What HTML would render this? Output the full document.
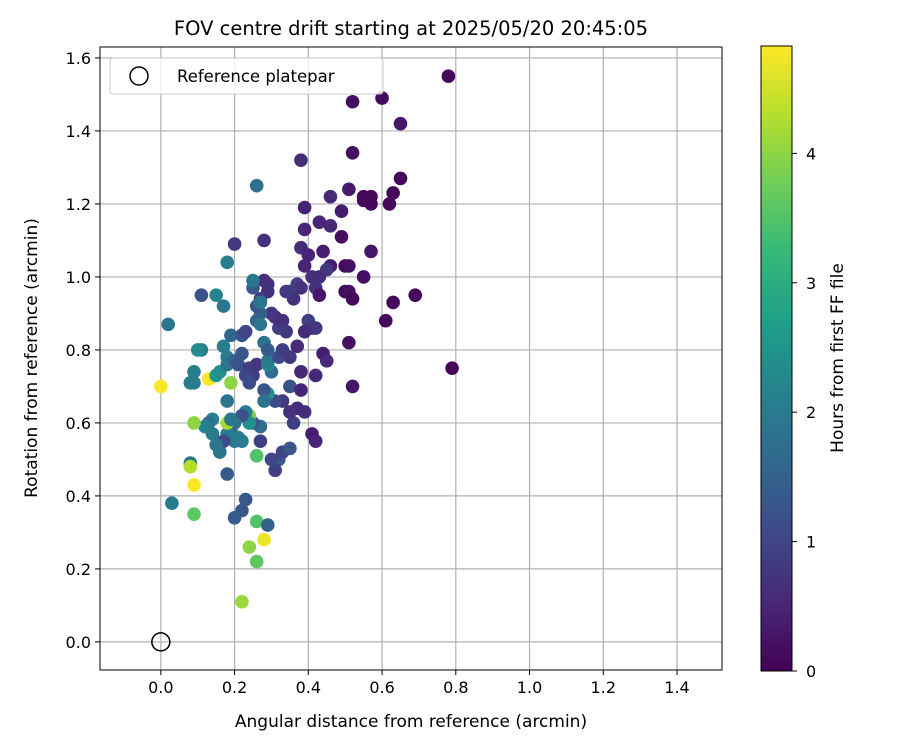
<!DOCTYPE html>
<html><head><meta charset="utf-8"><style>
body{margin:0;background:#fff;}
svg text{font-family:"DejaVu Sans","Liberation Sans",sans-serif;fill:#000;}
</style></head><body>
<svg id="chart" width="900" height="750" xmlns="http://www.w3.org/2000/svg">
<rect width="900" height="750" fill="#fff"/>
<text x="411" y="35" font-size="19.5" text-anchor="middle">FOV centre drift starting at 2025/05/20 20:45:05</text>
<g id="grid"></g>
<g id="points"></g>
<rect x="100" y="47" width="622" height="623" fill="none" stroke="#000" stroke-width="1"/>
<g id="ticks"></g>
<text x="411" y="727" font-size="17" text-anchor="middle">Angular distance from reference (arcmin)</text>
<text transform="translate(37,358) rotate(-90)" font-size="17" text-anchor="middle">Rotation from reference (arcmin)</text>
<g>
<rect x="110" y="58" width="273" height="36" rx="3" fill="#fff" fill-opacity="0.8" stroke="#ccc"/>
<circle cx="139" cy="76" r="9" fill="none" stroke="#000" stroke-width="1.5"/>
<text x="177" y="82" font-size="16.5">Reference platepar</text>
</g>
<defs><linearGradient id="vir" x1="0" y1="1" x2="0" y2="0"></linearGradient></defs>
<rect x="761" y="46" width="31" height="625" fill="url(#vir)" stroke="#000" stroke-width="1"/>
<g id="cticks"></g>
<text transform="translate(843,358) rotate(-90)" font-size="17" text-anchor="middle">Hours from first FF file</text>
</svg>
<script>
const xTicks=[0.0,0.2,0.4,0.6,0.8,1.0,1.2,1.4];
const yTicks=[0.0,0.2,0.4,0.6,0.8,1.0,1.2,1.4,1.6];
const cTicks=[0,1,2,3,4];
const refPoint=[0,0];
const xs=[0.78,0.52,0.60,0.65,0.38,0.52,0.65,0.51,0.46,0.55,0.57,0.63,0.55,0.57,0.62,0.49,0.39,0.43,0.46,0.39,0.49,0.38,0.44,0.57,0.40,0.39,0.46,0.50,0.51,0.45,0.55,0.41,0.43,0.37,0.38,0.42,0.50,0.51,0.52,0.43,0.35,0.36,0.34,0.63,0.69,0.61,0.79,0.51,0.52,0.41,0.42,0.44,0.45,0.42,0.38,0.37,0.40,0.41,0.42,0.39,0.34,0.32,0.33,0.31,0.30,0.29,0.27,0.28,0.29,0.26,0.28,0.20,0.11,0.18,0.17,0.15,0.02,0.11,0.10,0.09,0.08,0.09,0.00,0.13,0.15,0.19,0.16,0.18,0.17,0.19,0.22,0.23,0.18,0.20,0.22,0.21,0.24,0.25,0.26,0.23,0.24,0.26,0.27,0.27,0.26,0.25,0.25,0.27,0.30,0.29,0.29,0.28,0.29,0.32,0.33,0.35,0.35,0.37,0.38,0.39,0.36,0.35,0.33,0.31,0.29,0.28,0.28,0.27,0.25,0.26,0.27,0.32,0.31,0.33,0.35,0.30,0.24,0.23,0.24,0.22,0.20,0.19,0.20,0.22,0.21,0.18,0.17,0.16,0.14,0.14,0.13,0.15,0.12,0.09,0.18,0.19,0.18,0.18,0.08,0.08,0.09,0.03,0.09,0.23,0.22,0.20,0.26,0.29,0.28,0.24,0.26,0.22];
const ys=[1.55,1.48,1.49,1.42,1.32,1.34,1.27,1.24,1.22,1.22,1.22,1.23,1.21,1.20,1.20,1.18,1.19,1.15,1.14,1.13,1.11,1.08,1.07,1.07,1.06,1.03,1.03,1.03,1.03,1.02,1.00,1.00,1.00,0.98,0.97,0.97,0.96,0.96,0.94,0.95,0.96,0.94,0.96,0.93,0.95,0.88,0.75,0.82,0.70,0.57,0.55,0.79,0.77,0.73,0.74,0.81,0.88,0.86,0.86,0.85,0.85,0.86,0.88,0.89,0.90,0.96,0.94,0.99,0.98,1.25,1.10,1.09,0.95,1.04,0.92,0.95,0.87,0.80,0.80,0.74,0.71,0.71,0.70,0.72,0.73,0.71,0.74,0.78,0.81,0.84,0.84,0.85,0.76,0.77,0.79,0.76,0.75,0.73,0.76,0.73,0.71,0.88,0.90,0.87,0.92,0.97,0.99,0.93,0.74,0.76,0.77,0.82,0.80,0.78,0.80,0.78,0.70,0.64,0.69,0.63,0.60,0.63,0.66,0.66,0.68,0.69,0.66,0.59,0.60,0.51,0.55,0.50,0.47,0.52,0.53,0.50,0.62,0.63,0.60,0.62,0.60,0.58,0.55,0.55,0.56,0.57,0.55,0.52,0.57,0.61,0.60,0.54,0.59,0.60,0.60,0.61,0.66,0.46,0.49,0.48,0.43,0.38,0.35,0.39,0.36,0.34,0.33,0.32,0.28,0.26,0.22,0.11];
const hours=[0.1,0.2,0.15,0.3,0.6,0.2,0.1,0.35,0.55,0.1,0.1,0.1,0.1,0.1,0.1,0.4,0.45,0.5,0.55,0.5,0.2,0.6,0.4,0.3,0.5,0.5,0.4,0.1,0.2,0.8,0.2,0.7,0.6,0.9,0.7,0.7,0.15,0.2,0.1,0.3,0.9,0.7,0.8,0.1,0.1,0.1,0.05,0.2,0.3,0.4,0.5,0.4,0.55,0.55,0.55,0.6,0.9,0.8,0.75,0.6,0.8,0.9,0.7,0.65,0.8,0.7,0.9,0.6,0.7,1.8,0.7,0.8,1.2,2.1,1.9,2.2,1.9,2.0,2.3,2.1,2.0,2.0,4.8,4.8,2.6,4.0,2.4,2.0,2.0,1.6,1.2,1.0,1.9,1.5,1.3,1.2,0.9,0.9,0.8,1.0,1.1,1.6,1.5,1.9,1.3,1.3,1.9,1.9,1.7,2.3,2.0,1.8,1.4,1.1,0.9,0.8,1.2,0.6,0.5,0.6,0.9,0.7,0.8,1.1,2.5,1.3,1.8,1.7,1.3,3.5,0.9,1.3,0.9,1.0,1.3,1.0,3.9,2.1,2.4,1.2,1.9,1.7,1.9,2.0,2.0,2.0,1.1,1.9,2.0,2.2,1.8,1.9,2.1,4.0,4.2,1.9,1.9,1.4,1.9,4.3,4.8,2.0,3.6,1.3,1.3,1.4,3.5,1.5,4.7,4.0,3.6,4.1];
const NS="http://www.w3.org/2000/svg";
const L=100,R=722,T=47,B=670;
const X0=-0.165,X1=1.522,Y0=-0.077,Y1=1.630,HMAX=4.83;
const sx=v=>L+(v-X0)/(X1-X0)*(R-L);
const sy=v=>B-(v-Y0)/(Y1-Y0)*(B-T);
const sc=v=>671-v/HMAX*625;
const vir=[[68,1,84],[72,40,120],[62,74,137],[49,104,142],[38,130,142],[31,158,137],[53,183,121],[109,205,89],[180,222,44],[253,231,37]];
function viridis(t){t=Math.max(0,Math.min(1,t));const p=t*(vir.length-1),i=Math.min(Math.floor(p),vir.length-2),f=p-i;const c=vir[i].map((a,k)=>Math.round(a+(vir[i+1][k]-a)*f));return `rgb(${c[0]},${c[1]},${c[2]})`;}
function mk(tag,attrs,parent){const e=document.createElementNS(NS,tag);for(const k in attrs)e.setAttribute(k,attrs[k]);parent.appendChild(e);return e;}
const grid=document.getElementById('grid'),ticks=document.getElementById('ticks');
xTicks.forEach(v=>{const x=sx(v);
const g=mk('line',{x1:x,x2:x,y1:T,y2:B,stroke:'#b0b0b0','stroke-width':1.2},grid);


mk('line',{x1:x,x2:x,y1:B,y2:B+5,stroke:'#000'},ticks);
const t=mk('text',{x:x,y:B+23,'font-size':16,'text-anchor':'middle'},ticks);t.textContent=v.toFixed(1);

});
yTicks.forEach(v=>{const y=sy(v);
const g=mk('line',{x1:L,x2:R,y1:y,y2:y,stroke:'#b0b0b0','stroke-width':1.2},grid);


mk('line',{x1:L-5,x2:L,y1:y,y2:y,stroke:'#000'},ticks);
const t=mk('text',{x:L-9,y:y+6,'font-size':16,'text-anchor':'end'},ticks);t.textContent=v.toFixed(1);

});
const pts=document.getElementById('points');
xs.forEach((v,i)=>{const c=mk('circle',{cx:sx(v),cy:sy(ys[i]),r:6.8,fill:viridis(hours[i]/HMAX)},pts);

});
const rp=mk('circle',{cx:sx(refPoint[0]),cy:sy(refPoint[1]),r:9,fill:'none',stroke:'#000','stroke-width':1.5},pts);


const grad=document.getElementById('vir');
vir.forEach((c,i)=>mk('stop',{offset:(i/(vir.length-1)),'stop-color':`rgb(${c})`},grad));
const ct=document.getElementById('cticks');
cTicks.forEach(v=>{const y=sc(v);mk('line',{x1:792,x2:797,y1:y,y2:y,stroke:'#000'},ct);
const t=mk('text',{x:806,y:y+6,'font-size':16},ct);t.textContent=v;

});
</script>
</body></html>
